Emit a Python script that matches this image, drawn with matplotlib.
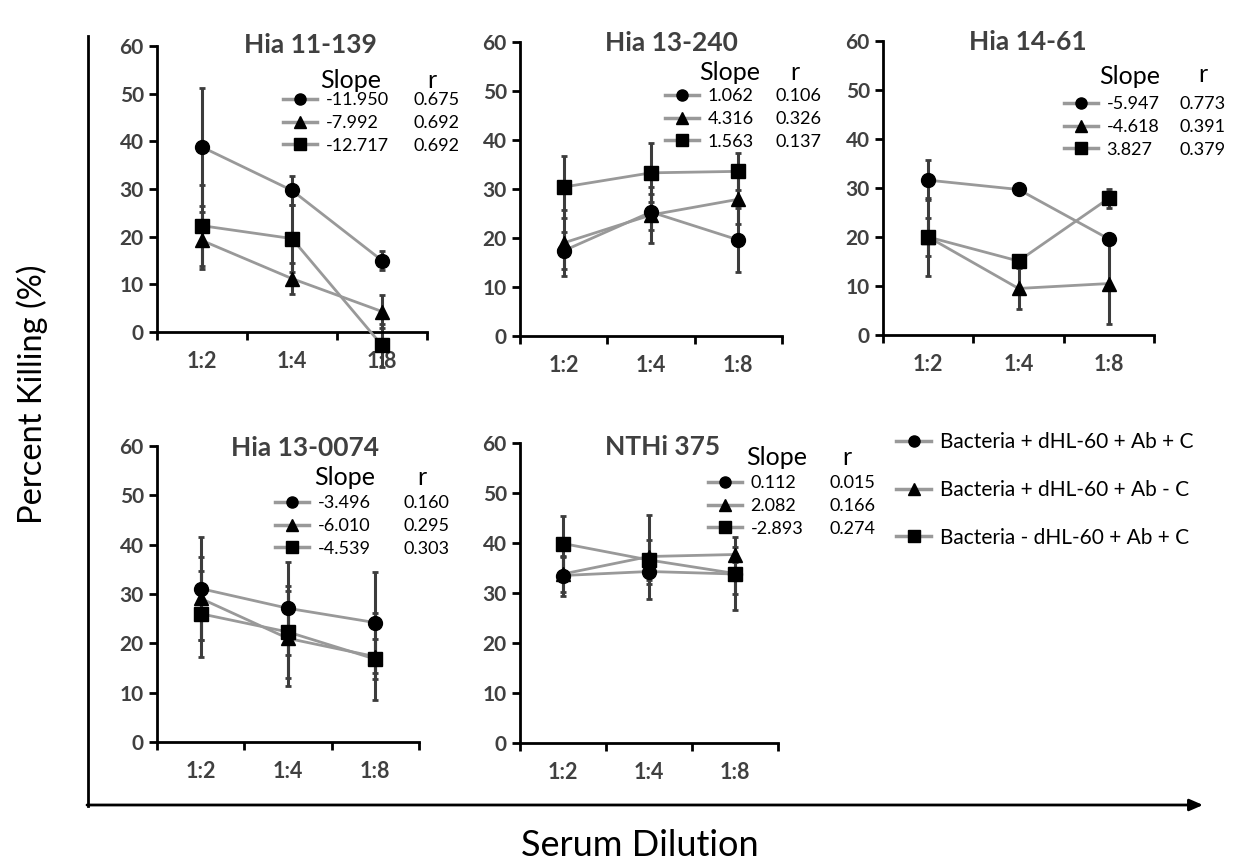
import matplotlib
matplotlib.use("Agg")
import matplotlib.pyplot as plt
from matplotlib.lines import Line2D

# ---------------- data ----------------
dilutions = ["1:2", "1:4", "1:8"]
titles = ["Hia 11-139", "Hia 13-240", "Hia 14-61", "Hia 13-0074", "NTHi 375"]
series_labels = ["Bacteria + dHL-60 + Ab + C",
                 "Bacteria + dHL-60 + Ab - C",
                 "Bacteria - dHL-60 + Ab + C"]

circle_vals = [[38.8, 29.7, 15.0], [17.4, 25.3, 19.6], [31.6, 29.7, 19.6],
               [31.1, 27.1, 24.2], [33.5, 34.3, 33.8]]
circle_err = [[12.4, 3.0, 2.0], [3.8, 3.7, 6.6], [4.1, 0.5, 0.0],
              [10.4, 9.4, 10.3], [4.0, 2.5, 4.0]]
triangle_vals = [[19.2, 11.2, 4.3], [19.0, 24.7, 27.9], [20.0, 9.5, 10.5],
                 [29.1, 21.0, 17.3], [33.8, 37.3, 37.7]]
triangle_err = [[6.0, 3.3, 3.5], [6.7, 5.8, 5.0], [3.9, 4.1, 8.3],
                [8.5, 9.7, 8.8], [3.5, 8.4, 1.5]]
square_vals = [[22.3, 19.6, -2.8], [30.4, 33.3, 33.6], [20.0, 15.1, 27.9],
               [26.0, 22.3, 16.8], [39.9, 36.6, 33.9]]
square_err = [[8.5, 7.0, 4.5], [6.3, 6.0, 3.8], [8.0, 0.5, 1.9],
              [8.7, 9.3, 4.1], [5.5, 4.0, 7.3]]

slopes = [["-11.950", "-7.992", "-12.717"],
          ["1.062", "4.316", "1.563"],
          ["-5.947", "-4.618", "3.827"],
          ["-3.496", "-6.010", "-4.539"],
          ["0.112", "2.082", "-2.893"]]
r_values = [["0.675", "0.692", "0.692"],
            ["0.106", "0.326", "0.137"],
            ["0.773", "0.391", "0.379"],
            ["0.160", "0.295", "0.303"],
            ["0.015", "0.166", "0.274"]]

y_ticks = [0, 10, 20, 30, 40, 50, 60]

# ---------------- layout (pixels) ----------------
W, H = 1234, 864
plt.rcParams['font.family'] = ['Lato', 'DejaVu Sans']
fig = plt.figure(figsize=(W / 100, H / 100), dpi=100)


def fx(px):
    return px / W


def fy(py):
    return 1 - py / H


axes_px = [(157, 46, 427, 332), (520, 42, 782, 336), (883, 41, 1154, 335),
           (157, 446, 419, 742), (520, 443, 778, 743)]
title_px = [(310, 45), (671, 43), (1028, 42), (305, 448), (663, 447)]
# handle_x, r_x, mid_row_y, slope_header(cx, y), r_header(cx, y)
leg_px = [(283, 413, 123, (351, 80), (432, 80)),
          (665, 775, 119, (730, 73), (795, 73)),
          (1064, 1180, 127, (1130, 76), (1203, 75)),
          (275, 403, 526, (345, 477), (422, 477)),
          (708, 830, 506, (777, 457), (847, 457))]

LINE_C = "#999999"
ERR_C = "#3c3c3c"
TXT_C = "#404040"
markers = ["o", "^", "s"]
xpos = [0.5, 1.5, 2.5]

for i in range(5):
    x0, y0, x1, y1 = axes_px[i]
    ax = fig.add_axes([fx(x0), fy(y1), fx(x1 - x0), (y1 - y0) / H])
    vals = [circle_vals[i], triangle_vals[i], square_vals[i]]
    errs = [circle_err[i], triangle_err[i], square_err[i]]
    for v, e, m in zip(vals, errs, markers):
        ax.errorbar(xpos, v, yerr=e, fmt="none", ecolor=ERR_C, elinewidth=2.2,
                    capsize=2.5, capthick=2, zorder=2, clip_on=False)
        ax.plot(xpos, v, color=LINE_C, lw=2, zorder=3, clip_on=False)
        ax.plot(xpos, v, linestyle="none", marker=m, color="black",
                markersize=10 if m != "s" else 9.5, zorder=4, clip_on=False)
    ax.set_xlim(0, 3)
    ax.set_ylim(0, 60)
    ax.set_yticks(y_ticks)
    ax.set_xticks([0, 1, 2, 3])
    ax.set_xticklabels([])
    ax.set_xticks(xpos, minor=True)
    ax.set_xticklabels(dilutions, minor=True)
    ax.tick_params(axis="x", which="minor", length=0, pad=14,
                   labelsize=15.5, labelcolor=TXT_C)
    ax.tick_params(axis="both", which="major", direction="out", length=6,
                   width=2, color="black", labelsize=15, labelcolor=TXT_C)
    for lab in ax.get_yticklabels() + ax.get_xticklabels(minor=True):
        lab.set_fontweight("bold")
    for s in ["top", "right"]:
        ax.spines[s].set_visible(False)
    for s in ["left", "bottom"]:
        ax.spines[s].set_linewidth(2)
    ax.patch.set_alpha(0)

    tx, ty = title_px[i]
    fig.text(fx(tx), fy(ty), titles[i], ha="center", va="center",
             fontsize=19, fontweight="bold", color=TXT_C)

    hx, rx, my, sh, rh = leg_px[i]
    handles = [Line2D([], [], color=LINE_C, lw=2.5, marker=m,
                      markerfacecolor="black", markeredgecolor="black",
                      markersize=8) for m in markers]
    leg = ax.legend(handles, slopes[i], loc="center left",
                    bbox_to_anchor=(fx(hx), fy(my)),
                    bbox_transform=fig.transFigure, frameon=False,
                    fontsize=13, handlelength=1.9, handletextpad=0.45,
                    labelspacing=0.37, borderpad=0, borderaxespad=0)
    ax.add_artist(leg)
    blank = [Line2D([], [], linestyle="none") for _ in markers]
    ax.legend(blank, r_values[i], loc="center left",
              bbox_to_anchor=(fx(rx), fy(my)),
              bbox_transform=fig.transFigure, frameon=False,
              fontsize=13, handlelength=0, handletextpad=0,
              labelspacing=0.37, borderpad=0, borderaxespad=0)
    fig.text(fx(sh[0]), fy(sh[1]), "Slope", ha="center", va="center",
             fontsize=18, color="black")
    fig.text(fx(rh[0]), fy(rh[1]), "r", ha="center", va="center",
             fontsize=18, color="black")

# main legend
main_handles = [Line2D([], [], color=LINE_C, lw=2.5, marker=m,
                       markerfacecolor="black", markeredgecolor="black",
                       markersize=8) for m in markers]
fig.legend(main_handles, series_labels, loc="center left",
           bbox_to_anchor=(fx(896), fy(490)), frameon=False, fontsize=15,
           handlelength=1.7, handletextpad=0.4, labelspacing=1.32,
           borderpad=0, borderaxespad=0)

# outer axes arrows
ov = fig.add_axes([0, 0, 1, 1])
ov.set_xlim(0, W)
ov.set_ylim(H, 0)
ov.axis("off")
ov.patch.set_alpha(0)
ov.annotate("", xy=(1203, 805), xytext=(87, 805),
            arrowprops=dict(arrowstyle="-|>,head_length=0.8,head_width=0.35",
                            color="black", lw=2, shrinkA=0, shrinkB=0))
ov.plot([88, 88], [36, 806], color="black", lw=2)

fig.text(fx(32), fy(394), "Percent Killing (%)", rotation=90, ha="center",
         va="center", fontsize=23.5, color="black")
fig.text(fx(640), fy(846), "Serum Dilution", ha="center", va="center",
         fontsize=26, color="black")

fig.savefig("out.png", dpi=100)
